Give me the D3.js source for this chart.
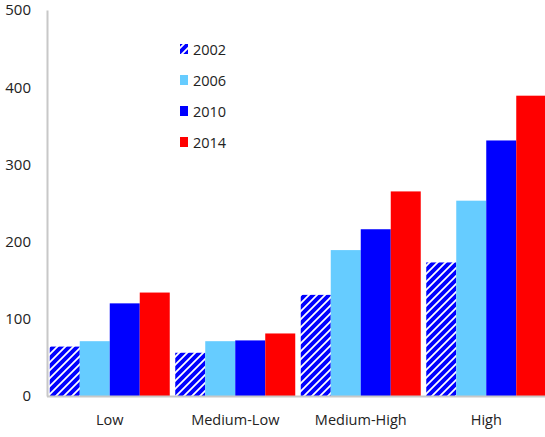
<!DOCTYPE html>
<html>
<head>
<meta charset="utf-8">
<script src="https://cdn.jsdelivr.net/npm/d3@7"></script>
<style>
  body { margin: 0; background: #fff; }
  text { font-family: "Open Sans", "Noto Sans", sans-serif; fill: #222; }
</style>
</head>
<body>
<svg id="chart" width="545" height="437"></svg>
<script>
// Category groups along the x axis
const categories = ["Low", "Medium-Low", "Medium-High", "High"];
// One series per survey year
const years = ["2002", "2006", "2010", "2014"];
const values2002 = [64, 56, 131, 173];
const values2006 = [71, 71, 189, 253];
const values2010 = [120, 72, 216, 331];
const values2014 = [134, 81, 265, 389];
const yTicks = [0, 100, 200, 300, 400, 500];

const seriesValues = [values2002, values2006, values2010, values2014];
const fills = ["url(#hatch)", "#66ccff", "#0000ff", "#ff0000"];

const svg = d3.select("#chart");
const plotLeft = 47, plotRight = 549, plotTop = 10, plotBottom = 396;

// Upward diagonal hatch for the 2002 series
const defs = svg.append("defs");
const pat = defs.append("pattern")
  .attr("id", "hatch")
  .attr("patternUnits", "userSpaceOnUse")
  .attr("width", 8).attr("height", 8);
pat.append("rect").attr("width", 8).attr("height", 8).attr("fill", "#fff");
pat.append("path")
  .attr("d", "M-2,10 L10,-2 M-4,4 L4,-4 M4,12 L12,4")
  .attr("stroke", "#0000ff").attr("stroke-width", 3.9);

const x = d3.scaleBand().domain(categories).range([plotLeft, plotRight]).paddingInner(0).paddingOuter(0);
const y = d3.scaleLinear().domain([0, 500]).range([plotBottom, plotTop]);
const barW = 30;
const groupOffset = (x.bandwidth() - barW * years.length) / 2;

// Bars
years.forEach((yr, i) => {
  svg.append("g").selectAll("rect")
    .data(categories.map((c, j) => ({ c, v: seriesValues[i][j] })))
    .join("rect")
    .attr("x", d => x(d.c) + groupOffset + i * barW)
    .attr("y", d => y(d.v))
    .attr("width", barW)
    .attr("height", d => y(0) - y(d.v))
    .attr("fill", fills[i]);
});

// Y axis
const yAxis = svg.append("g")
  .attr("transform", `translate(${plotLeft},0)`)
  .call(d3.axisLeft(y).tickValues(yTicks).tickSize(0).tickPadding(16));
yAxis.select(".domain").attr("stroke", "#c8c8c8").attr("stroke-width", 2);
yAxis.selectAll("text").style("font-size", "15px").attr("fill", "#222");

// X axis
const xAxis = svg.append("g")
  .attr("transform", `translate(0,${plotBottom})`)
  .call(d3.axisBottom(x).tickSize(0).tickPadding(19));
xAxis.select(".domain").attr("stroke", "#c8c8c8").attr("stroke-width", 2)
  .attr("d", `M${plotLeft},0.5H545`);
xAxis.selectAll("text").style("font-size", "14.5px").attr("fill", "#222");

// Legend
const legend = svg.append("g");
years.forEach((yr, i) => {
  const ly = 50 + i * 31;
  legend.append("rect")
    .attr("x", 180).attr("y", ly - 6)
    .attr("width", 8).attr("height", 10)
    .attr("fill", fills[i]);
  legend.append("text")
    .attr("x", 193).attr("y", ly)
    .attr("dy", "0.35em")
    .style("font-size", "14.5px")
    .text(yr);
});
</script>
</body>
</html>
